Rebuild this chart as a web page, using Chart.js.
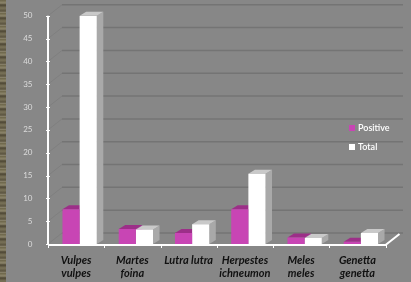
<!DOCTYPE html>
<html>
<head>
<meta charset="utf-8">
<script src="https://cdn.jsdelivr.net/npm/chart.js@4.4.1/dist/chart.umd.min.js"></script>
<style>
  html, body { margin: 0; padding: 0; background: #878787; }
  #wrap { position: relative; width: 411px; height: 282px; overflow: hidden; }
  #strip {
    position: absolute; left: 0; top: 0; width: 6px; height: 282px;
    background: repeating-linear-gradient(180deg, #6b6448 0px, #8d866c 3px, #4c4533 5px, #7a7359 8px, #5b5440 11px, #938c74 13px);
  }
  canvas { position: absolute; left: 0; top: 0; }
</style>
</head>
<body>
<div id="wrap">
  <div id="strip"></div>
  <canvas id="chart" width="411" height="282"></canvas>
</div>
<script>
// data
const categories = [['Vulpes', 'vulpes'], ['Martes', 'foina'], ['Lutra lutra'], ['Herpestes', 'ichneumon'], ['Meles', 'meles'], ['Genetta', 'genetta']];
const positive = [7.6, 3.3, 2.4, 7.6, 1.4, 0.5];
const total = [50, 3.2, 4.3, 15.4, 1.3, 2.4];
const seriesNames = ['Positive', 'Total'];
const yTicks = [0, 5, 10, 15, 20, 25, 30, 35, 40, 45, 50];

// 3D look: depth of the bars and of the back wall
const BAR_DX = 6.5, BAR_DY = 4;
const WALL_DX = 14, WALL_DY = 11;
const AXIS_SHIFT = 3.5;

const faceColors = [
    { front: '#c845b4', top: '#9c2f88', side: '#a8379a' },
    { front: '#ffffff', top: '#c9c9c9', side: '#a9a9a9' }
];

const threeD = {
    id: 'threeD',
    beforeDatasetsDraw(chart) {
        const ctx = chart.ctx;
        const y = chart.scales.y;
        const area = chart.chartArea;
        const axisX = area.left - AXIS_SHIFT;

        // back wall gridlines
        ctx.save();
        ctx.strokeStyle = '#747474';
        ctx.lineWidth = 1.5;
        yTicks.forEach(v => {
            const py = y.getPixelForValue(v);
            ctx.beginPath();
            ctx.moveTo(axisX + WALL_DX, py - WALL_DY);
            ctx.lineTo(area.right + WALL_DX, py - WALL_DY);
            ctx.stroke();
        });
        ctx.strokeStyle = '#7f7f7f';
        ctx.lineWidth = 1;
        yTicks.forEach(v => {
            const py = y.getPixelForValue(v);
            ctx.beginPath();
            ctx.moveTo(axisX, py);
            ctx.lineTo(axisX + WALL_DX, py - WALL_DY);
            ctx.stroke();
        });

        // top and side faces of the bars, fronts come from Chart.js
        chart.data.datasets.forEach((ds, di) => {
            const meta = chart.getDatasetMeta(di);
            const c = faceColors[di];
            meta.data.forEach(bar => {
                const p = bar.getProps(['x', 'y', 'base', 'width'], true);
                const l = p.x - p.width / 2, r = p.x + p.width / 2;
                ctx.fillStyle = c.side;
                ctx.beginPath();
                ctx.moveTo(r, p.y);
                ctx.lineTo(r + BAR_DX, p.y - BAR_DY);
                ctx.lineTo(r + BAR_DX, p.base - BAR_DY);
                ctx.lineTo(r, p.base);
                ctx.closePath();
                ctx.fill();
                ctx.fillStyle = c.top;
                ctx.beginPath();
                ctx.moveTo(l, p.y);
                ctx.lineTo(r, p.y);
                ctx.lineTo(r + BAR_DX, p.y - BAR_DY);
                ctx.lineTo(l + BAR_DX, p.y - BAR_DY);
                ctx.closePath();
                ctx.fill();
            });
        });
        ctx.restore();
    },
    afterDraw(chart) {
        const ctx = chart.ctx;
        const y = chart.scales.y;
        const x = chart.scales.x;
        const area = chart.chartArea;
        const axisX = area.left - AXIS_SHIFT;
        const right = area.right - AXIS_SHIFT;
        const base = y.getPixelForValue(0) + 1;

        ctx.save();
        ctx.strokeStyle = '#ffffff';
        ctx.lineWidth = 2;
        // y axis
        ctx.beginPath();
        ctx.moveTo(axisX, y.getPixelForValue(50));
        ctx.lineTo(axisX, base);
        ctx.stroke();
        // floor edge
        ctx.beginPath();
        ctx.moveTo(axisX, base);
        ctx.lineTo(right, base);
        ctx.lineTo(right + WALL_DX, base - WALL_DY);
        ctx.stroke();
        // tick marks
        ctx.lineWidth = 1;
        yTicks.forEach(v => {
            const py = Math.round(y.getPixelForValue(v)) + 0.5;
            ctx.beginPath();
            ctx.moveTo(axisX - 2, py);
            ctx.lineTo(axisX + 2, py);
            ctx.stroke();
        });
        for (let i = 0; i <= categories.length; i++) {
            const px = Math.round(x.getPixelForValue(i - 0.5) - AXIS_SHIFT) + 0.5;
            ctx.beginPath();
            ctx.moveTo(px, base);
            ctx.lineTo(px, base + 3);
            ctx.stroke();
        }

        // legend
        ctx.font = '600 9px Lato';
        ctx.textBaseline = 'middle';
        seriesNames.forEach((name, i) => {
            const ly = 128 + i * 19;
            ctx.fillStyle = faceColors[i].front;
            ctx.fillRect(349, ly - 3, 6, 6);
            ctx.fillStyle = '#ffffff';
            ctx.fillText(name, 358, ly);
        });
        ctx.restore();
    }
};

new Chart(document.getElementById('chart'), {
    type: 'bar',
    data: {
        labels: categories,
        datasets: [
            { label: seriesNames[0], data: positive, backgroundColor: faceColors[0].front },
            { label: seriesNames[1], data: total, backgroundColor: faceColors[1].front }
        ]
    },
    options: {
        responsive: false,
        animation: false,
        devicePixelRatio: 1,
        layout: { padding: { top: 13, right: 22, left: 0, bottom: 0 } },
        datasets: {
            bar: { categoryPercentage: 0.61, barPercentage: 1, borderWidth: 0 }
        },
        plugins: {
            legend: { display: false },
            tooltip: { enabled: false }
        },
        scales: {
            x: {
                grid: { display: false },
                border: { display: false },
                afterFit(scale) { scale.height = 38; },
                ticks: {
                    color: '#111111',
                    font: { family: 'Lato', size: 11, style: 'italic', weight: 'bold', lineHeight: 1.2 },
                    padding: 2,
                    labelOffset: -AXIS_SHIFT,
                    maxRotation: 0,
                    autoSkip: false
                }
            },
            y: {
                min: 0,
                max: 50,
                grid: { display: false },
                border: { display: false },
                afterFit(scale) { scale.width = 51.5; },
                ticks: {
                    stepSize: 5,
                    color: '#dcdcdc',
                    font: { family: 'Lato', size: 8 },
                    padding: 11
                }
            }
        }
    },
    plugins: [threeD]
});
</script>
</body>
</html>
